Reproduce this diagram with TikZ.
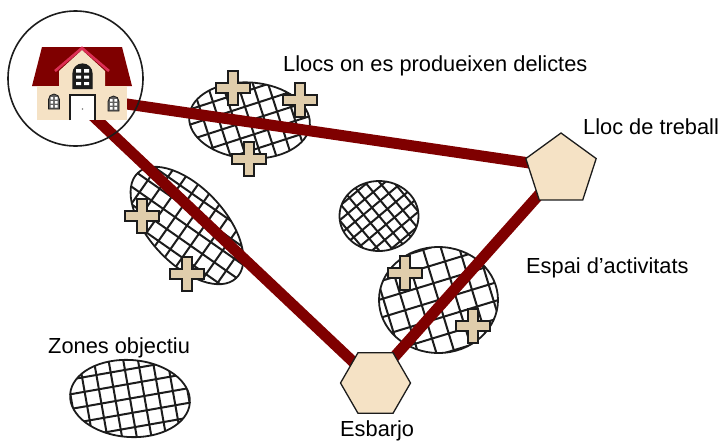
\documentclass[tikz,border=0pt]{standalone}
\usepackage{fontspec}
\setmainfont{Liberation Sans}
\usetikzlibrary{shapes.geometric}
\usetikzlibrary{backgrounds}

\definecolor{roadred}{HTML}{7F0000}
\definecolor{inkdark}{HTML}{1C1C1C}
\definecolor{placefill}{HTML}{F5E2C5}
\definecolor{plusfill}{HTML}{E0CDAB}
\definecolor{trimred}{HTML}{DC2F55}

\newcommand{\hatchgrid}[2]{%
  \pgftransformrotate{#1}
  \foreach \k in {-9,...,9} {
    \draw[inkdark, line width=2pt] (\k*#2,-130) -- (\k*#2,130);
    \draw[inkdark, line width=2pt] (-130,\k*#2) -- (130,\k*#2);
  }
}

\tikzset{
  zone/.style n args={5}{ellipse, draw=inkdark, line width=1.8pt, fill=white, inner sep=0pt,
    minimum width=#1, minimum height=#2, rotate=#3, path picture={\hatchgrid{#4}{#5}}},
  place/.style={regular polygon, draw=inkdark, line width=1.3pt, fill=placefill, inner sep=0pt},
  road/.style={draw=roadred, line width=11pt},
  plusmark/.style={draw=inkdark, line width=1.7pt, fill=plusfill},
  label/.style={anchor=base west, inner sep=0pt, font=\fontsize{21.8}{24}\selectfont}
}

\begin{document}
\begin{tikzpicture}[x=1pt, y=-1pt]
  \useasboundingbox (0,0) rectangle (720,440);

  \node[place, regular polygon sides=5, minimum size=74pt] (work) at (561,170) {};
  \node[place, regular polygon sides=6, minimum size=70pt] (leisure) at (375.5,383) {};
  \node[circle, draw=inkdark, line width=1.6pt, inner sep=0pt, minimum size=135pt] (home) at (75.5,78.5) {};
  \coordinate (homeeast) at (75,96.4);
  \coordinate (homesouth) at (75,99);

  \begin{pgfonlayer}{background}
    \node[zone={121pt}{76pt}{-4}{22}{14.5}] (zonecrime) at (249.5,120.5) {};
    \node[zone={144pt}{76pt}{-47}{12}{14.5}] (zoneleft) at (187,225.5) {};
    \node[zone={79pt}{70pt}{0}{40}{11}] (zonecentre) at (379,216) {};
    \node[zone={119pt}{106pt}{0}{17}{17.5}] (zoneactivity) at (438.5,300) {};
    \node[zone={120pt}{77pt}{-4}{14}{14.5}] (zonetarget) at (130,398.5) {};

    \draw[road] (homeeast) -- ([yshift=2.4pt]work.center);
    \draw[road] (homesouth) -- (leisure.center);
    \draw[road] (work.center) -- ([yshift=5pt]leisure.center);
  \end{pgfonlayer}

  % crosses on the zones
  \foreach \x/\y in {233/88, 300/100, 249/159, 142/216, 187/274, 405/273, 473/326} {
    \draw[plusmark, shift={(\x,\y)}] (-5,-17) -- (5,-17) -- (5,-5) -- (17,-5) -- (17,5) -- (5,5)
      -- (5,17) -- (-5,17) -- (-5,5) -- (-17,5) -- (-17,-5) -- (-5,-5) -- cycle;
  }

  % house
  \fill[roadred] (42,47) -- (122,47) -- (132,86) -- (32,86) -- cycle;
  \fill[placefill] (37,86) rectangle (127,120);
  \fill[placefill] (59,86) -- (59,71) -- (82,50) -- (105,71) -- (105,86) -- cycle;
  \draw[trimred, line width=2.6pt] (55,71) -- (82,48) -- (109,71);
  \draw[inkdark, line width=1.2pt, fill=inkdark] (73,88.5) -- (73,73.5) arc[start angle=180, end angle=360, radius=9.5] -- (92,88.5) -- cycle;
  \fill[white] (76,69) rectangle (81,72.5) (84,69) rectangle (89,72.5) (76,75.5) rectangle (81,78.5) (84,75.5) rectangle (89,78.5) (76,82) rectangle (81,85) (84,82) rectangle (89,85);
  \draw[inkdark, line width=1.4pt, fill=white] (70,120) -- (70,95) -- (95,95) -- (95,120);
  \fill[gray] (82.5,109) circle (0.8);
  \foreach \x/\y in {54/101.5, 113.5/103.5} {
    \draw[inkdark, line width=0.8pt, fill=white!30!inkdark, shift={(\x,\y)}] (-5.5,7.5) -- (-5.5,-2) arc[start angle=180, end angle=360, radius=5.5] -- (5.5,7.5) -- cycle;
    \fill[white, shift={(\x,\y)}] (-3.5,-4.5) rectangle (-0.8,-2) (0.8,-4.5) rectangle (3.5,-2) (-3.5,-0.5) rectangle (-0.8,2) (0.8,-0.5) rectangle (3.5,2) (-3.5,3.5) rectangle (-0.8,6) (0.8,3.5) rectangle (3.5,6);
  }

  \node[label] (crimelabel) at (283,71) {Llocs on es produeixen delictes};
  \node[label] (worklabel) at (583,134) {Lloc de treball};
  \node[label] (activitylabel) at (526,273) {Espai d’activitats};
  \node[label] (targetlabel) at (48,353) {Zones objectiu};
  \node[label] (leisurelabel) at (340,436) {Esbarjo};
\end{tikzpicture}
\end{document}
